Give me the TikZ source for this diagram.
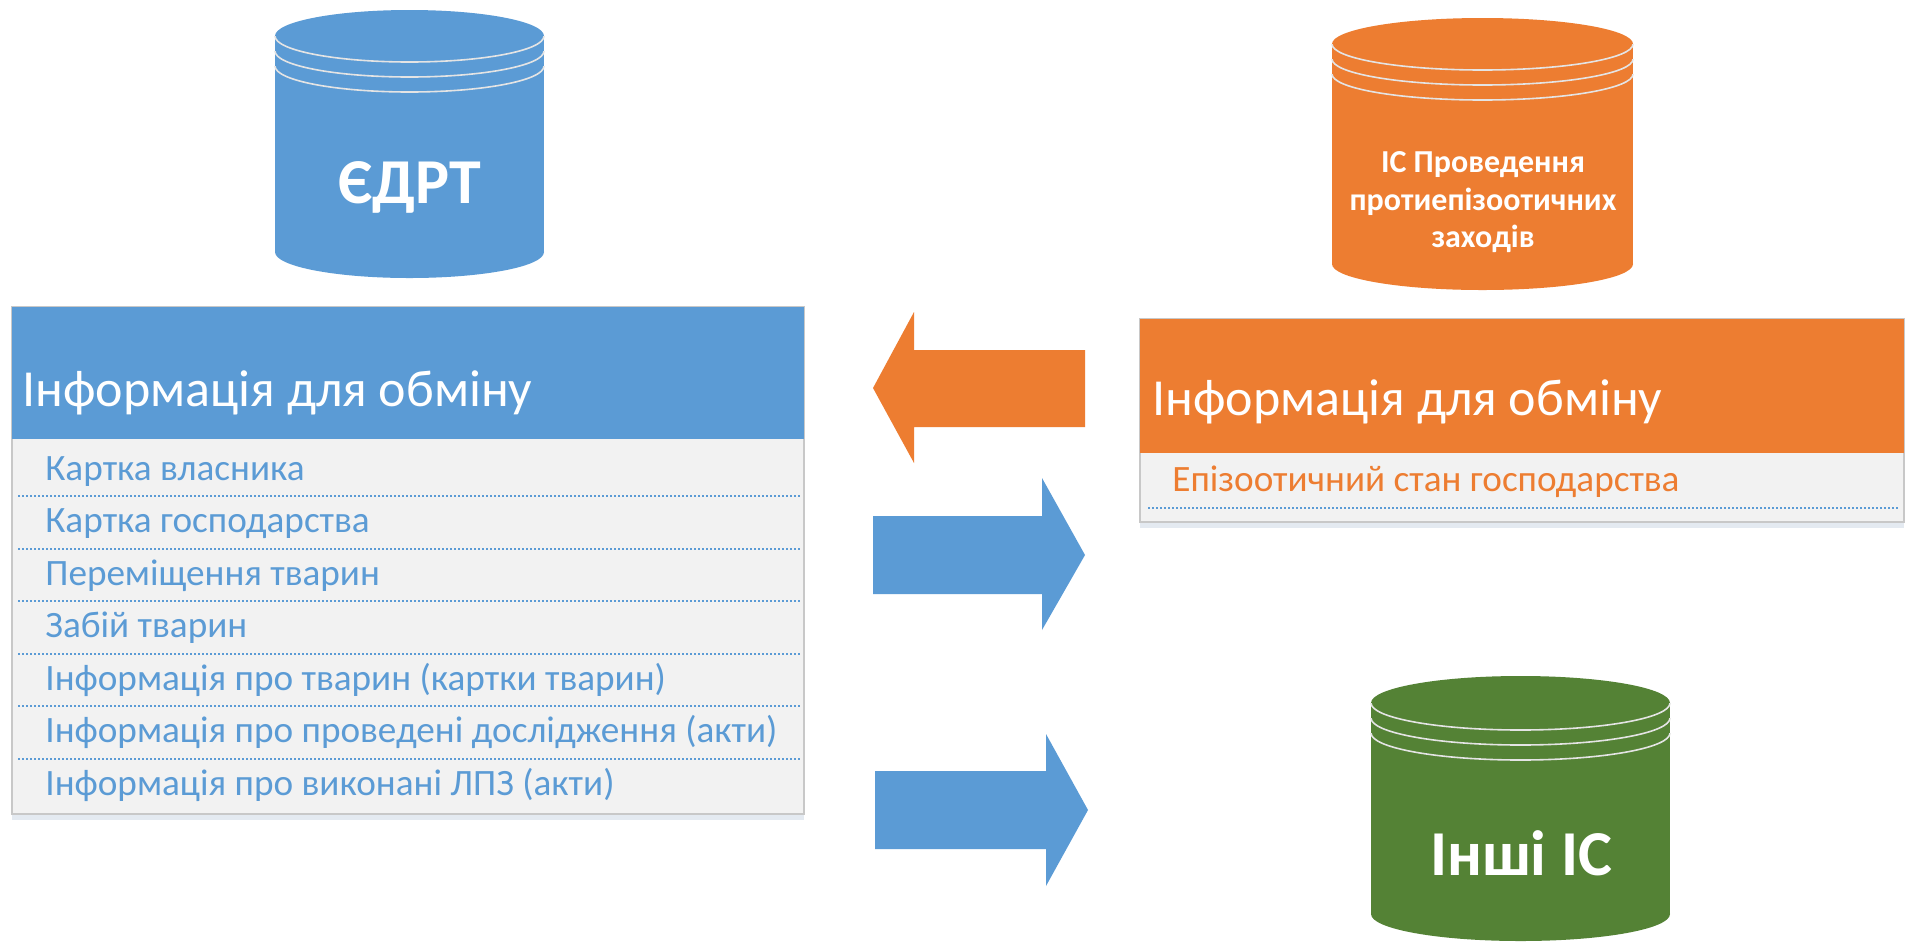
\documentclass[tikz,border=0pt]{standalone}
\usepackage{fontspec}
\setmainfont{Carlito}
\usetikzlibrary{shadows}
\definecolor{xblue}{HTML}{5B9BD5}
\definecolor{xorange}{HTML}{ED7D31}
\definecolor{xgreen}{HTML}{548235}
\definecolor{xgray}{HTML}{F2F2F2}
\definecolor{xborder}{HTML}{C8C8C8}
\definecolor{xring}{HTML}{E4E4E4}
% cx, rx, ytop, ybot, ry, colour
\newcommand\dbcan[6]{%
  \fill[#6] (#1-#2,#3) rectangle (#1+#2,#4);
  \fill[#6] (#1,#4) ellipse [x radius=#2, y radius=#5];
  \fill[#6] (#1,#3) ellipse [x radius=#2, y radius=#5];
  \foreach \k in {0,1,2}{
    \begin{scope}
      \clip (#1-#2-3,#3+\k*15) rectangle (#1+#2+3,#3+\k*15+#5+4);
      \draw[xring, line width=0.8pt] (#1,#3+\k*15) ellipse [x radius=#2, y radius=#5];
    \end{scope}}
}
\tikzset{
  boxshadow/.style={drop shadow={shadow xshift=0pt, shadow yshift=-3pt, opacity=0.18, fill=xblue!60!gray}},
  tablebox/.style={fill=xgray, draw=xborder, line width=0.6pt, anchor=north west, inner sep=0pt, outer sep=0pt, boxshadow},
  headbox/.style={anchor=north west, inner sep=0pt, outer sep=0pt},
  headtext/.style={font=\fontsize{26}{30}\selectfont, text=white, anchor=base west, inner sep=0pt},
  itemtext/.style={font=\fontsize{18.6}{22}\selectfont, anchor=base west, inner sep=0pt},
  dotline/.style={draw=xblue, line width=1pt, dash pattern=on 1pt off 1pt},
  cantext/.style={text=white, anchor=base, inner sep=0pt, font=\bfseries},
}
\begin{document}
\begin{tikzpicture}[x=0.5pt, y=-0.5pt]
\useasboundingbox (0,0) rectangle (1911,944);
\fill[white] (0,0) rectangle (1911,944);

% cylinders
\dbcan{409.5}{134.5}{36}{252}{26}{xblue}
\dbcan{1482.5}{150.5}{44}{264}{26}{xorange}
\dbcan{1520.5}{149.5}{703}{914}{27}{xgreen}

\node[cantext, font=\fontsize{32}{38}\bfseries] (edrt) at (409.5,203) {ЄДРТ};
\node[cantext, font=\fontsize{16}{19}\bfseries] (ic1) at (1483,172) {ІС Проведення};
\node[cantext, font=\fontsize{16}{19}\bfseries] (ic2) at (1483,210) {протиепізоотичних};
\node[cantext, font=\fontsize{16}{19}\bfseries] (ic3) at (1483,247) {заходів};
\node[cantext, font=\fontsize{32}{38}\bfseries] (other) at (1521,875) {Інші ІС};

% left table
\node[tablebox, minimum width=396pt, minimum height=253.5pt] (lbox) at (12,307) {};
\node[headbox, fill=xblue, minimum width=396pt, minimum height=66pt] (lhead) at (12,307) {};
\node[headtext] (lht) at (22,406) {Інформація для обміну};
\node[itemtext, text=xblue] (l1) at (45,480) {Картка власника};
\node[itemtext, text=xblue] (l2) at (45,532.5) {Картка господарства};
\node[itemtext, text=xblue] (l3) at (45,585) {Переміщення тварин};
\node[itemtext, text=xblue] (l4) at (45,637.5) {Забій тварин};
\node[itemtext, text=xblue] (l5) at (45,690) {Інформація про тварин (картки тварин)};
\node[itemtext, text=xblue] (l6) at (45,742.5) {Інформація про проведені дослідження (акти)};
\node[itemtext, text=xblue] (l7) at (45,795) {Інформація про виконані ЛПЗ (акти)};
\foreach \yy in {496,548.5,601,653.5,706,758.5}{
  \draw[dotline] (18,\yy) -- (800,\yy);
}

% right table
\node[tablebox, minimum width=382pt, minimum height=101.5pt] (rbox) at (1140,319) {};
\node[headbox, fill=xorange, minimum width=382pt, minimum height=67pt] (rhead) at (1140,319) {};
\node[headtext] (rht) at (1152,415) {Інформація для обміну};
\node[itemtext, text=xorange] (r1) at (1172,491) {Епізоотичний стан господарства};
\draw[dotline] (1148,508) -- (1900,508);

% block arrows
\fill[xorange] (873,388) -- (914,312) -- (914,350) -- (1085,350) -- (1085,427) -- (914,427) -- (914,463) -- cycle;
\fill[xblue] (873,516) -- (1042,516) -- (1042,478) -- (1085,555) -- (1042,630) -- (1042,594) -- (873,594) -- cycle;
\fill[xblue] (875,771) -- (1046,771) -- (1046,734) -- (1088,810) -- (1046,886) -- (1046,849) -- (875,849) -- cycle;
\end{tikzpicture}
\end{document}
